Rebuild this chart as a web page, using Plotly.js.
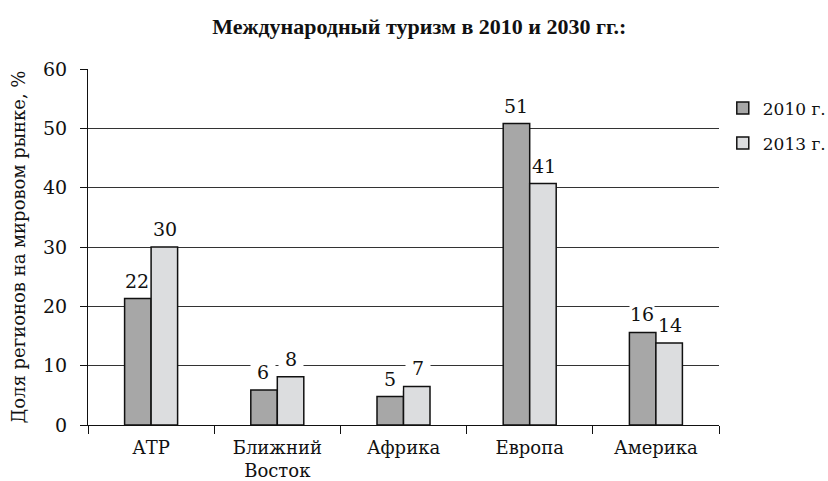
<!DOCTYPE html>
<html>
<head>
<meta charset="utf-8">
<script src="https://cdn.plot.ly/plotly-3.0.1.min.js"></script>
<style>
  body { margin: 0; background: #fff; }
  #chart { width: 828px; height: 481px; }
</style>
</head>
<body>
<div id="chart"></div>
<script>
const regions = ["АТР", "Ближний<br>Восток", "Африка", "Европа", "Америка"];

// bar heights as drawn in the picture
const values2010 = [21.3, 5.9, 4.8, 50.8, 15.6];
const values2013 = [30.0, 8.15, 6.5, 40.7, 13.8];

// numbers written above the bars
const labels2010 = ["22", "6", "5", "51", "16"];
const labels2013 = ["30", "8", "7", "41", "14"];

const seriesNames = ["2010 г.", "2013 г."];

const FONT = "DejaVu Serif, serif";

let data = [
  {
    name: seriesNames[0],
    type: "bar",
    x: regions,
    y: values2010,
    legendgroup: "a",
    marker: { color: "#a7a7a7", line: { color: "#111", width: 1.5 } },
    hoverinfo: "none",
  },
  {
    name: seriesNames[1],
    type: "bar",
    x: regions,
    y: values2013,
    legendgroup: "b",
    marker: { color: "#dcdddf", line: { color: "#111", width: 1.5 } },
    hoverinfo: "none",
  },
];

// value labels with a white box, so they break the grid lines like in the print
let annotations = [];
regions.forEach((r, i) => {
  annotations.push({
    x: r, y: values2010[i], text: labels2010[i],
    xref: "x", yref: "y", xshift: -14, yshift: 6,
    yanchor: "bottom", showarrow: false,
    bgcolor: "#fff", borderpad: 0, width: 24,
    font: { family: FONT, size: 19, color: "#111" },
  });
  annotations.push({
    x: r, y: values2013[i], text: labels2013[i],
    xref: "x", yref: "y", xshift: 14, yshift: 6,
    yanchor: "bottom", showarrow: false,
    bgcolor: "#fff", borderpad: 0, width: 24,
    font: { family: FONT, size: 19, color: "#111" },
  });
});

let layout = {
  width: 828,
  height: 481,
  margin: { l: 88, r: 109, t: 69, b: 56, autoexpand: false },
  paper_bgcolor: "#fff",
  plot_bgcolor: "#fff",
  font: { family: FONT, size: 19, color: "#111" },
  title: {
    text: "<b>Международный туризм в 2010 и 2030 гг.:</b>",
    font: { family: "Liberation Serif", size: 22, color: "#111" },
    x: 0.525,
    xref: "paper",
    y: 0.945,
    yanchor: "middle",
  },
  barmode: "group",
  bargap: 0.58,
  bargroupgap: 0,
  xaxis: {
    type: "category",
    showline: true,
    linecolor: "#111",
    linewidth: 1,
    ticks: "outside",
    tickson: "boundaries",
    ticklen: 8,
    tickcolor: "#111",
    ticklabelstandoff: 6,
    showgrid: false,
    tickfont: { family: FONT, size: 18, color: "#111" },
  },
  yaxis: {
    range: [0, 60],
    dtick: 10,
    showline: true,
    linecolor: "#111",
    linewidth: 1,
    ticks: "outside",
    ticklen: 7,
    tickcolor: "#111",
    ticklabelstandoff: 9,
    showgrid: true,
    gridcolor: "#333",
    gridwidth: 1,
    zeroline: false,
    tickfont: { family: FONT, size: 19, color: "#111" },
    title: {
      text: "Доля регионов на мировом рынке, %",
      font: { family: FONT, size: 18, color: "#111" },
      standoff: 12,
    },
  },
  showlegend: true,
  legend: {
    x: 1.006,
    y: 0.94,
    xanchor: "left",
    yanchor: "top",
    traceorder: "grouped",
    tracegroupgap: 10,
    font: { family: FONT, size: 17, color: "#111" },
    bgcolor: "rgba(0,0,0,0)",
  },
  annotations: annotations,
};

Plotly.newPlot("chart", data, layout, { displayModeBar: false, staticPlot: true });
</script>
</body>
</html>
